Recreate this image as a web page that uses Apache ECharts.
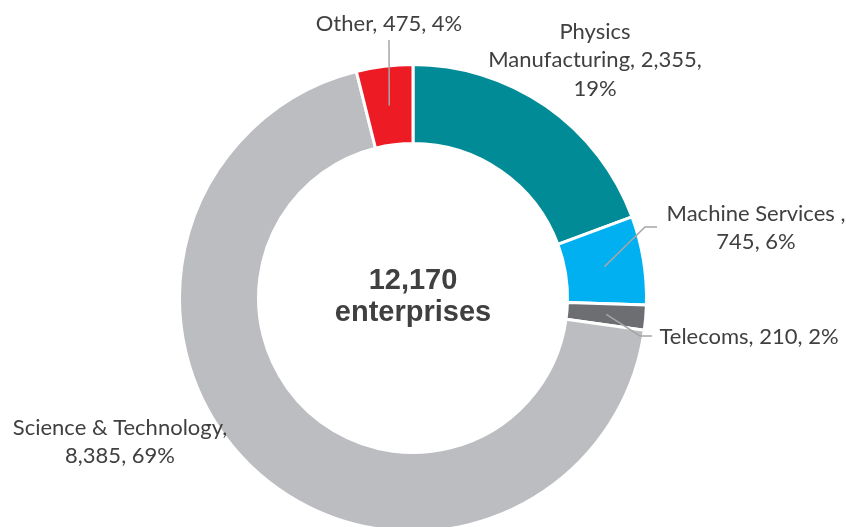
<!DOCTYPE html>
<html>
<head>
<meta charset="utf-8">
<style>
  html, body { margin: 0; padding: 0; background: #ffffff; }
  #chart { width: 846px; height: 527px; }
</style>
<script src="https://cdn.jsdelivr.net/npm/echarts@6/dist/echarts.min.js"></script>
</head>
<body>
<div id="chart"></div>
<script>
// Enterprises by sector
const categories = ['Physics\nManufacturing', 'Machine Services ', 'Telecoms', 'Science & Technology', 'Other'];
const enterprises = [2355, 745, 210, 8385, 475];
const sectorColors = ['#008B96', '#00B0F0', '#6D6E71', '#BCBDC0', '#ED1C24'];
const centerCaption = 'enterprises';

// how each label's text is joined: name|value and value|percent
const joinNameValue = [', ', ',\n', ', ', ',\n', ', '];
const joinValuePct = [',\n', ', ', ', ', ', ', ', '];

// label anchors and leader-line bend points (screen px)
const labelSpots = [
  { x: 595, y: 60 },
  { x: 756, y: 228, line: [[645, 227], [657, 227]] },
  { x: 749, y: 337, line: [[640, 336], [652, 336]] },
  { x: 120, y: 442 },
  { x: 389, y: 24, line: [[389, 40]] }
];

const CX = 413, CY = 298, R_IN = 154.5, R_OUT = 233.5;
const total = enterprises.reduce((a, b) => a + b, 0);
const fmt = n => n.toLocaleString('en-US');

// mid-angle point on the ring for each slice (start of leader line)
function ringPoint(i) {
  let before = 0;
  for (let k = 0; k < i; k++) before += enterprises[k];
  const frac = (before + enterprises[i] / 2) / total;
  const a = frac * 2 * Math.PI;
  const r = (R_IN + R_OUT) / 2;
  return [CX + r * Math.sin(a), CY - r * Math.cos(a)];
}

// leader lines drawn above the ring
const leaderLines = labelSpots
  .map((spot, i) => spot.line ? {
    type: 'polyline',
    z: 100,
    silent: true,
    shape: { points: [ringPoint(i)].concat(spot.line) },
    style: { stroke: '#A6A6A6', lineWidth: 1.5, fill: null }
  } : null)
  .filter(Boolean);

const chart = echarts.init(document.getElementById('chart'), null, { renderer: 'canvas' });

chart.setOption({
  animation: false,
  backgroundColor: '#ffffff',
  graphic: [{
    type: 'text',
    x: CX,
    y: CY - 1,
    z: 100,
    style: {
      text: fmt(total) + '\n' + centerCaption,
      fontFamily: '"Liberation Sans", Arial, sans-serif',
      fontWeight: 'bold',
      fontSize: 29,
      lineHeight: 32,
      fill: '#404040',
      align: 'center',
      verticalAlign: 'middle'
    }
  }].concat(leaderLines),
  series: [{
    type: 'pie',
    center: [CX, CY],
    radius: [R_IN, R_OUT],
    startAngle: 90,
    clockwise: true,
    avoidLabelOverlap: false,
    emphasis: { disabled: true },
    itemStyle: { borderColor: '#ffffff', borderWidth: 3 },
    label: {
      show: true,
      position: 'outside',
      fontFamily: 'Lato, "Open Sans", sans-serif',
      fontSize: 22,
      lineHeight: 28.5,
      color: '#404040',
      align: 'center',
      formatter: p => {
        const i = p.dataIndex;
        const pct = Math.round(p.value / total * 100);
        return p.name + joinNameValue[i] + fmt(p.value) + joinValuePct[i] + pct + '%';
      }
    },
    labelLine: { show: false },
    labelLayout: params => {
      const spot = labelSpots[params.dataIndex];
      return { x: spot.x, y: spot.y, align: 'center', verticalAlign: 'middle' };
    },
    data: categories.map((name, i) => ({
      name,
      value: enterprises[i],
      itemStyle: { color: sectorColors[i] }
    }))
  }]
});
</script>
</body>
</html>
